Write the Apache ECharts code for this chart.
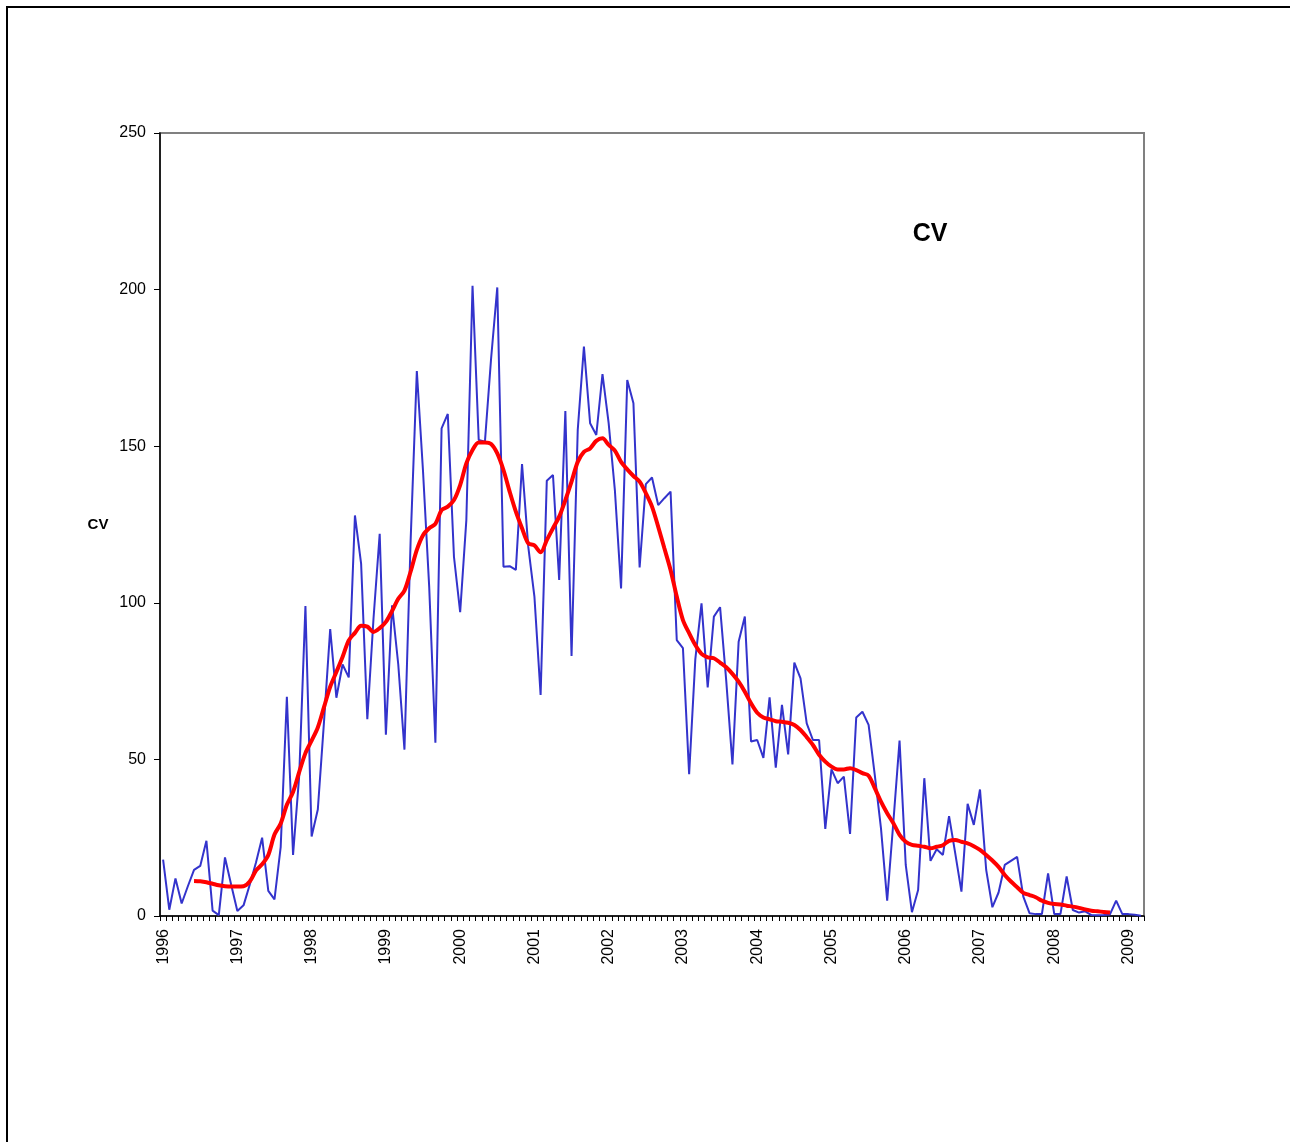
<!DOCTYPE html>
<html>
<head>
<meta charset="utf-8">
<script src="https://cdn.jsdelivr.net/npm/echarts@6/dist/echarts.min.js"></script>
<style>
html,body{margin:0;padding:0;background:#fff;}
#c{width:1290px;height:1142px;}
</style>
</head>
<body>
<div id="c"></div>
<script>
// Years shown on the axis; monthly categories Jan 1996 .. Mar 2009
var years = [1996,1997,1998,1999,2000,2001,2002,2003,2004,2005,2006,2007,2008,2009];
var lastMonthOf2009 = 3;
var months = [];
years.forEach(function(y){
  var n = (y === 2009) ? lastMonthOf2009 : 12;
  for (var m = 1; m <= n; m++) months.push(y + '-' + (m < 10 ? '0' + m : m));
});

// Monthly CV values (blue)
var cvMonthly = [
  18, 2, 12, 4, 9.5, 14.7, 16, 24, 1.7, 0.3, 18.7, 10,
  1.6, 3.4, 10, 17, 25, 8, 5.3, 22, 70, 19.5, 45, 99,
  25.4, 34, 62, 91.6, 69.7, 80.3, 76.2, 127.9, 112.4, 62.8, 95, 122,
  57.9, 99.2, 80.3, 53.1, 120, 174, 142, 105, 55.3, 155.7, 160.3, 114.7,
  97, 126.4, 201.2, 152, 151.4, 178, 200.7, 111.5, 111.7, 110.5, 144.3, 118,
  102, 70.6, 139, 140.8, 107.3, 161.2, 83, 155.2, 181.8, 157.3, 153.6, 173,
  157.3, 136, 104.6, 171.1, 163.7, 111.3, 137.9, 140, 131.2, 133.4, 135.5, 88.1,
  85.5, 45.3, 82, 99.8, 73, 95.6, 98.6, 75, 48.4, 87.6, 95.6, 55.7,
  56.2, 50.5, 69.8, 47.4, 67.4, 51.6, 80.9, 75.9, 61.5, 56.2, 56.2, 27.8,
  46.8, 42.4, 44.5, 26.2, 63.4, 65.2, 61, 45, 28, 4.9, 30, 56,
  16.3, 1.2, 8.3, 44, 17.6, 21.3, 19.5, 31.9, 20, 7.8, 35.8, 29.1,
  40.4, 14.7, 2.8, 7.5, 16.3, 17.6, 18.9, 6.2, 0.9, 0.6, 0.6, 13.6,
  0.6, 0.6, 12.6, 1.9, 1.1, 1.5, 0.3, 0.2, 0.3, 0.5, 4.9, 0.6,
  0.6, 0.4, 0.1
];

// Smoothed trend (red), first value at month index 5
var trendStartIndex = 5;
var cvTrend = [
  11.2, 11.1, 10.8, 10.3, 9.8, 9.5, 9.4, 9.4, 9.5, 11,
  14.5, 16.5, 19.5, 26, 29.5, 35.5, 39.6, 46, 52, 56,
  60.2, 66.7, 73.2, 77.9, 82.7, 88, 90.4, 92.7, 92.4, 90.7,
  91.9, 93.9, 97.4, 101.3, 103.9, 110, 116.9, 121.6, 123.8, 125.2,
  129.6, 130.7, 132.8, 137.6, 144.5, 148.8, 151.2, 151.2, 150.7, 147.7,
  142.4, 135.5, 129.1, 123.8, 119, 118.3, 116.1, 120, 123.8, 127.5,
  132.8, 138.7, 145, 148.2, 149.3, 151.7, 152.5, 150.4, 148.6, 145,
  142.6, 140.5, 138.7, 135, 130.7, 124.3, 117.4, 110.5, 102, 94.5,
  90.3, 86.5, 83.7, 82.6, 82.3, 80.9, 79.4, 77.3, 74.8, 71.6,
  67.9, 64.9, 63.4, 62.8, 62.2, 62, 61.7, 61, 59.4, 57.1,
  54.6, 51.5, 49.3, 47.7, 46.8, 46.8, 47.2, 46.6, 45.6, 44.8,
  40.8, 36.5, 32.8, 29.6, 25.9, 23.7, 22.7, 22.4, 22.1, 21.6,
  22.1, 22.6, 24, 24.3, 23.7, 23.2, 22.3, 21.1, 19.5, 17.7,
  15.7, 13.1, 11, 9.2, 7.4, 6.7, 6, 4.9, 4.2, 3.8,
  3.7, 3.3, 3, 2.6, 2.1, 1.7, 1.5, 1.3, 1.1
];

var trendData = months.map(function(_, i){
  var k = i - trendStartIndex;
  return (k >= 0 && k < cvTrend.length) ? cvTrend[k] : null;
});

var FONT = '"Liberation Sans", Arial, sans-serif';
var chart = echarts.init(document.getElementById('c'), null, {renderer:'canvas'});
chart.setOption({
  animation: false,
  backgroundColor: '#ffffff',
  textStyle: {fontFamily: FONT},
  title: {
    text: 'CV',
    left: 925, top: 217, textAlign: 'center',
    textStyle: {fontFamily: FONT, fontSize: 25, fontWeight: 'bold', color: '#000'}
  },
  graphic: [{
    type: 'rect', silent: true, z: 100,
    shape: {x: 7, y: 7, width: 1400, height: 1300},
    style: {fill: 'none', stroke: '#000', lineWidth: 2}
  }],
  grid: {
    left: 160, right: 146, top: 133, bottom: 226,
    show: true, borderColor: '#808080', borderWidth: 2, backgroundColor: 'transparent'
  },
  xAxis: {
    type: 'category',
    data: months,
    boundaryGap: true,
    axisLine: {lineStyle: {color: '#000', width: 1.5}},
    axisTick: {show: true, interval: 0, length: 5, lineStyle: {color: '#000', width: 1}},
    axisLabel: {
      interval: function(i){ return i % 12 === 0; },
      formatter: function(v){ return v.slice(0,4); },
      rotate: 90, margin: 13,
      fontFamily: FONT, fontSize: 16, color: '#000'
    },
    splitLine: {show: false}
  },
  yAxis: {
    type: 'value',
    min: 0, max: 250, interval: 50,
    name: 'CV', nameLocation: 'middle', nameGap: 62, nameRotate: 0,
    nameTextStyle: {fontFamily: FONT, fontSize: 15, fontWeight: 'bold', color: '#000', align: 'center', verticalAlign: 'middle'},
    axisLine: {show: true, lineStyle: {color: '#000', width: 1.5}},
    axisTick: {show: true, length: 6, lineStyle: {color: '#000'}},
    axisLabel: {fontFamily: FONT, fontSize: 16, color: '#000', margin: 14},
    splitLine: {show: false}
  },
  series: [{
    name: 'CV',
    type: 'line',
    data: cvMonthly,
    showSymbol: false,
    lineStyle: {color: '#3333CC', width: 2},
    itemStyle: {color: '#3333CC'},
    z: 2
  }, {
    name: 'Trend',
    type: 'line',
    data: trendData,
    showSymbol: false,
    smooth: 0.3,
    lineStyle: {color: '#FF0000', width: 4},
    itemStyle: {color: '#FF0000'},
    z: 3
  }]
});
</script>
</body>
</html>
